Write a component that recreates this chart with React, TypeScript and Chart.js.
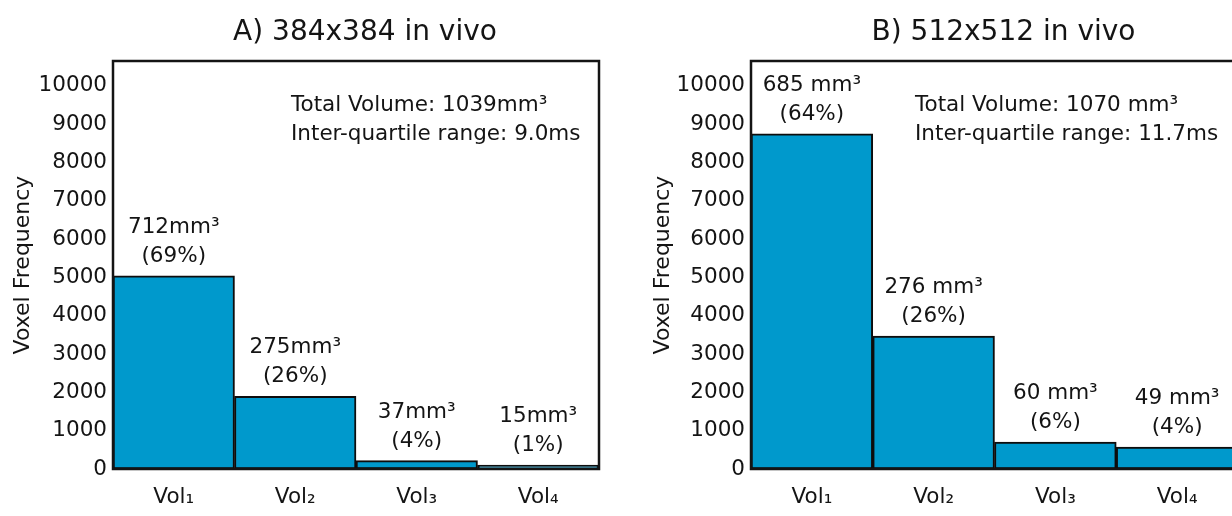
import React, { useEffect, useRef } from 'react';
import { Chart, registerables } from 'chart.js';

Chart.register(...registerables);

// ---------- data ----------
const categories = ['Vol₁', 'Vol₂', 'Vol₃', 'Vol₄'];
const yTickValues = [0, 1000, 2000, 3000, 4000, 5000, 6000, 7000, 8000, 9000, 10000];
const yMax = 10650;
const yAxisTitle = 'Voxel Frequency';

const titleA = 'A) 384x384 in vivo';
const valuesA = [5040, 1900, 220, 100];
const volumeLabelsA = ['712mm³', '275mm³', '37mm³', '15mm³'];
const percentLabelsA = ['(69%)', '(26%)', '(4%)', '(1%)'];
const notesA = ['Total Volume: 1039mm³', 'Inter-quartile range: 9.0ms'];

const titleB = 'B) 512x512 in vivo';
const valuesB = [8750, 3470, 700, 570];
const volumeLabelsB = ['685 mm³', '276 mm³', '60 mm³', '49 mm³'];
const percentLabelsB = ['(64%)', '(26%)', '(6%)', '(4%)'];
const notesB = ['Total Volume: 1070 mm³', 'Inter-quartile range: 11.7ms'];

// ---------- style ----------
const FONT = "'DejaVu Sans', sans-serif";
const TEXT = '#141414';
const BAR = '#0099cc';
const BAR_EDGE = '#0d0d0d';

const panelTextPlugin = {
  id: 'panelText',
  afterDatasetsDraw(chart: any, _args: any, opts: any) {
    const { ctx, chartArea } = chart;
    ctx.save();
    ctx.strokeStyle = TEXT;
    ctx.lineWidth = 2.5;
    ctx.strokeRect(
      chartArea.left,
      chartArea.top,
      chartArea.right - chartArea.left,
      chartArea.bottom - chartArea.top
    );
    ctx.fillStyle = TEXT;
    ctx.textBaseline = 'alphabetic';
    ctx.textAlign = 'center';
    ctx.font = `28px ${FONT}`;
    ctx.fillText(opts.title, (chartArea.left + chartArea.right) / 2 + opts.titleShift, opts.titleBaseline);

    ctx.font = `21.5px ${FONT}`;
    ctx.textAlign = 'left';
    opts.notes.forEach((t: string, i: number) => {
      ctx.fillText(t, chartArea.left + opts.noteDx, opts.noteBaseline + i * opts.lineGap);
    });

    ctx.textAlign = 'center';
    const meta = chart.getDatasetMeta(0);
    meta.data.forEach((el: any, i: number) => {
      const x = el.x;
      const top = el.y;
      ctx.fillText(opts.volumes[i], x, top - opts.labelGap - opts.lineGap);
      ctx.fillText(opts.percents[i], x, top - opts.labelGap);
    });
    ctx.restore();
  },
};

type Panel = {
  title: string;
  values: number[];
  volumes: string[];
  percents: string[];
  notes: string[];
  canvasWidth: number;
  plotLeft: number;
  plotRight: number;
  noteDx: number;
};

function buildChart(canvas: HTMLCanvasElement, p: Panel) {
  return new Chart(canvas, {
    type: 'bar',
    data: {
      labels: categories,
      datasets: [
        {
          data: p.values,
          backgroundColor: BAR,
          borderColor: BAR_EDGE,
          borderWidth: 2,
          borderSkipped: false,
          categoryPercentage: 1,
          barPercentage: 1,
        },
      ],
    },
    plugins: [panelTextPlugin],
    options: {
      responsive: false,
      animation: false,
      devicePixelRatio: 1,
      layout: {
        padding: { left: 0, top: 61, right: p.canvasWidth - p.plotRight, bottom: 0 },
      },
      plugins: {
        legend: { display: false },
        tooltip: { enabled: false },
        title: { display: false },
        panelText: {
          title: p.title,
          titleShift: 9,
          titleBaseline: 40,
          notes: p.notes,
          noteDx: p.noteDx,
          noteBaseline: 111,
          lineGap: 29,
          labelGap: 14,
          volumes: p.volumes,
          percents: p.percents,
        },
      } as any,
      scales: {
        x: {
          type: 'category',
          grid: { display: false, drawTicks: false },
          border: { display: false },
          ticks: {
            color: TEXT,
            font: { family: FONT, size: 21.5 },
            padding: 16,
            maxRotation: 0,
            autoSkip: false,
          },
          afterFit(scale: any) {
            scale.height = 47;
          },
        },
        y: {
          type: 'linear',
          min: 0,
          max: yMax,
          grid: { display: false, drawTicks: false },
          border: { display: false },
          ticks: {
            color: TEXT,
            font: { family: FONT, size: 21.5 },
            padding: 6,
            includeBounds: false,
            callback: (v: any) => String(v),
          },
          afterBuildTicks(scale: any) {
            scale.ticks = yTickValues.map((v) => ({ value: v }));
          },
          title: {
            display: true,
            text: yAxisTitle,
            color: TEXT,
            font: { family: FONT, size: 22 },
            padding: { top: 10, bottom: 0 },
          },
          afterFit(scale: any) {
            scale.width = p.plotLeft;
          },
        },
      },
    } as any,
  });
}

const panelA: Panel = {
  title: titleA,
  values: valuesA,
  volumes: volumeLabelsA,
  percents: percentLabelsA,
  notes: notesA,
  canvasWidth: 620,
  plotLeft: 113,
  plotRight: 599,
  noteDx: 178,
};

const panelB: Panel = {
  title: titleB,
  values: valuesB,
  volumes: volumeLabelsB,
  percents: percentLabelsB,
  notes: notesB,
  canvasWidth: 640,
  plotLeft: 111,
  plotRight: 598,
  noteDx: 164,
};

function PanelChart({ panel, left }: { panel: Panel; left: number }) {
  const ref = useRef<HTMLCanvasElement | null>(null);
  useEffect(() => {
    if (!ref.current) return;
    const chart = buildChart(ref.current, panel);
    return () => chart.destroy();
  }, [panel]);
  return (
    <canvas
      ref={ref}
      width={panel.canvasWidth}
      height={516}
      style={{ position: 'absolute', left, top: 0, width: panel.canvasWidth, height: 516 }}
    />
  );
}

export default function App() {
  return (
    <div
      style={{
        position: 'fixed',
        left: 0,
        top: 0,
        width: 1232,
        height: 516,
        overflow: 'hidden',
        background: '#ffffff',
      }}
    >
      <PanelChart panel={panelA} left={0} />
      <PanelChart panel={panelB} left={640} />
    </div>
  );
}
